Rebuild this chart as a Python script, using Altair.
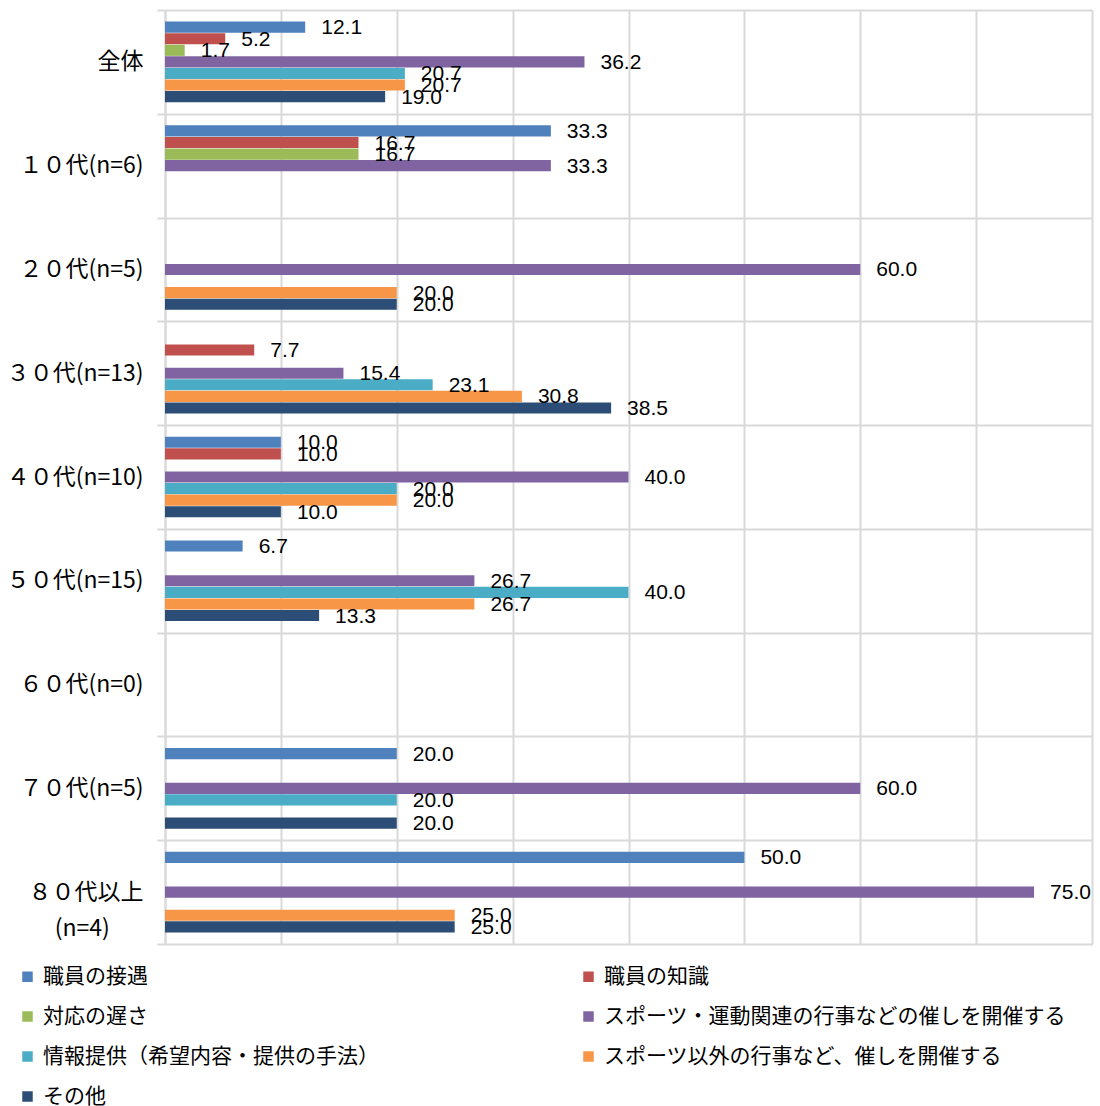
import altair as alt
import pandas as pd

PAD = "\u2800\u2800"
groups = ["全体", "１０代(n=6)", "２０代(n=5)", "３０代(n=13)", "４０代(n=10)",
          "５０代(n=15)", "６０代(n=0)", "７０代(n=5)", "８０代以上\n(n=4)" + PAD]
series = ["職員の接遇", "職員の知識", "対応の遅さ",
          "スポーツ・運動関連の行事などの催しを開催する",
          "情報提供（希望内容・提供の手法）",
          "スポーツ以外の行事など、催しを開催する", "その他"]
colors = ["#4F81BD", "#C0504D", "#9BBB59", "#8064A2", "#4BACC6", "#F79646", "#2C4D75"]

values = [
    [12.1, 5.2, 1.7, 36.2, 20.7, 20.7, 19.0],
    [33.3, 16.7, 16.7, 33.3, 0, 0, 0],
    [0, 0, 0, 60.0, 0, 20.0, 20.0],
    [0, 7.7, 0, 15.4, 23.1, 30.8, 38.5],
    [10.0, 10.0, 0, 40.0, 20.0, 20.0, 10.0],
    [6.7, 0, 0, 26.7, 40.0, 26.7, 13.3],
    [0, 0, 0, 0, 0, 0, 0],
    [20.0, 0, 0, 60.0, 20.0, 0, 20.0],
    [50.0, 0, 0, 75.0, 0, 25.0, 25.0],
]
x_ticks = [0, 10, 20, 30, 40, 50, 60, 70, 80]

# legend is laid out column by column; order entries so rows read left-to-right
legend_order = [0, 2, 4, 6, 1, 3, 5]
legend_domain = [series[i] for i in legend_order]
legend_range = [colors[i] for i in legend_order]

rows = []
for g, vals in zip(groups, values):
    for s, v in zip(series, vals):
        rows.append({"group": g, "series": s, "value": v})
df = pd.DataFrame(rows)

JP = "Noto Sans CJK JP"

base = alt.Chart(df).transform_filter("datum.value > 0")

y_enc = alt.Y("group:N", sort=groups, title=None,
              scale=alt.Scale(domain=groups, paddingInner=0, paddingOuter=0),
              axis=alt.Axis(tickBand="extent", grid=True, gridColor="#d9d9d9", gridWidth=2,
                            ticks=True, tickSize=8, tickColor="#d9d9d9", tickWidth=2,
                            domain=True, domainColor="#d9d9d9", domainWidth=2,
                            labelFontSize=23, labelFont=JP + ", DejaVu Sans", labelColor="#000000",
                            labelPadding=14, labelLimit=200,
                            labelExpr="split(datum.label, '\\n')", labelLineHeight=36))
yoff_enc = alt.YOffset("series:N", sort=series,
                       scale=alt.Scale(domain=series, paddingInner=0.04, paddingOuter=1))
x_enc = alt.X("value:Q", title=None,
              scale=alt.Scale(domain=[0, 80], nice=False, zero=True),
              axis=alt.Axis(values=x_ticks, labels=False, ticks=False, domain=False,
                            grid=True, gridColor="#d9d9d9", gridWidth=2))

bars = base.mark_bar().encode(
    x=x_enc,
    y=y_enc,
    yOffset=yoff_enc,
    color=alt.Color("series:N",
                    scale=alt.Scale(domain=legend_domain, range=legend_range),
                    legend=alt.Legend(title=None, orient="none", legendX=-148, legendY=956,
                                      columns=2, columnPadding=199, rowPadding=18,
                                      symbolType="square", symbolSize=110,
                                      symbolStrokeWidth=0, labelFontSize=21,
                                      labelFont=JP, labelColor="#000000",
                                      labelOffset=5, labelLimit=700)),
)

labels = base.mark_text(align="left", baseline="middle", dx=16, dy=1, fontSize=21,
                        font="Liberation Sans", color="#000000").encode(
    x=alt.X("value:Q"),
    y=alt.Y("group:N", sort=groups),
    yOffset=alt.YOffset("series:N", sort=series),
    text=alt.Text("value:Q", format=".1f"),
)

chart = (bars + labels).properties(
    width=927, height=934,
    autosize=alt.AutoSizeParams(type="none"),
    padding={"left": 165, "top": 10, "right": 8, "bottom": 162},
).configure_view(fill="#f4f4f4", stroke="transparent").configure(background="white")

chart.save("out.html", embed_options={"renderer": "svg", "actions": False})
